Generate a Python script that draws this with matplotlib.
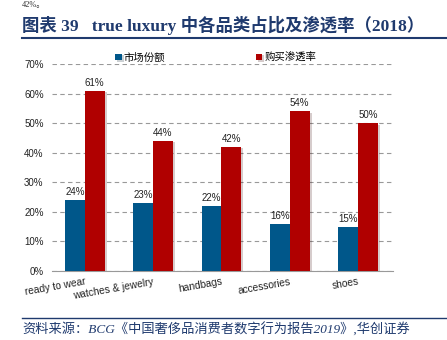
import numpy as np
import matplotlib.pyplot as plt
import matplotlib.patheffects as pe

plt.rcParams['font.family'] = ['Liberation Sans', 'Noto Sans CJK SC', 'DejaVu Sans']

# Data.
categories = ['ready to wear', 'watches & jewelry', 'handbags', 'accessories', 'shoes']
market_share = [0.24, 0.23, 0.22, 0.16, 0.15]
penetration = [0.61, 0.44, 0.42, 0.54, 0.50]
series_names = ['市场份额', '购买渗透率']

title_text = '图表 39   true luxury 中各品类占比及渗透率（2018）'
source_text = '资料来源：BCG《中国奢侈品消费者数字行为报告2019》,华创证券'

blue = '#00578A'
red = '#B00000'
navy = '#1F3A6E'

fig = plt.figure(figsize=(4.47, 3.4), dpi=100)
ax = fig.add_axes([52/447, 1-271/340, (393-52)/447, (271-64)/340])

x = np.arange(len(categories))
w = 0.29
shadow = [pe.SimplePatchShadow(offset=(1.5, -1), alpha=0.2), pe.Normal()]
b1 = ax.bar(x - w/2, market_share, w, color=blue, label=series_names[0], zorder=3)
b2 = ax.bar(x + w/2, penetration, w, color=red, label=series_names[1], zorder=3)
for b in list(b1) + list(b2):
    b.set_path_effects(shadow)

for xi, v in zip(x, market_share):
    ax.text(xi - w/2, v + 0.01, '{:.0f}%'.format(v*100), ha='center', va='bottom',
            fontsize=7, color='#222222')
for xi, v in zip(x, penetration):
    ax.text(xi + w/2, v + 0.01, '{:.0f}%'.format(v*100), ha='center', va='bottom',
            fontsize=7, color='#222222')

ax.set_ylim(0, 0.7)
ax.set_xlim(-0.48, 4.51)
ax.set_yticks(np.arange(0, 0.71, 0.1))
ax.set_yticklabels(['{:.0f}%'.format(t*100) for t in np.arange(0, 0.71, 0.1)],
                   fontsize=7, color='#222222')
ax.set_xticks(x)
ax.set_xticklabels(categories, rotation=10, ha='right', rotation_mode='anchor',
                   fontsize=7.3, color='#222222')
ax.tick_params(length=0, pad=6)
ax.tick_params(axis='x', pad=4)
ax.yaxis.grid(True, linestyle=(0, (4, 3)), color='#999999', linewidth=0.8, zorder=0)
for s in ['top', 'right', 'left']:
    ax.spines[s].set_visible(False)
ax.spines['bottom'].set_color('#999999')

leg = ax.legend(loc='upper center', bbox_to_anchor=(0.48, 1.1), ncol=2, frameon=False,
                fontsize=7.5, handlelength=0.6, handleheight=0.6, handletextpad=0.2,
                columnspacing=8.7)

# Page decorations around the chart.
fig.text(22/447, 1-1/340, '42%。', fontsize=6, color='#333333', va='top', ha='left',
         family=['Liberation Serif', 'Noto Sans CJK SC'])
fig.text(22/447, 1-25/340, title_text, fontsize=12.5, color=navy, fontweight='bold',
         va='center', ha='left', family=['Liberation Serif', 'Noto Sans CJK SC'])
fig.add_artist(plt.Line2D([22/447, 1], [1-38/340, 1-38/340], color=navy, linewidth=1.5))
fig.add_artist(plt.Line2D([22/447, 1], [1-318/340, 1-318/340], color=navy, linewidth=1.0))
fig.text(22/447, 1-330/340, source_text, fontsize=9.5, color=navy, style='italic',
         va='center', ha='left', family=['Liberation Serif', 'Noto Sans CJK SC'])

fig.savefig('out.png', dpi=100)
